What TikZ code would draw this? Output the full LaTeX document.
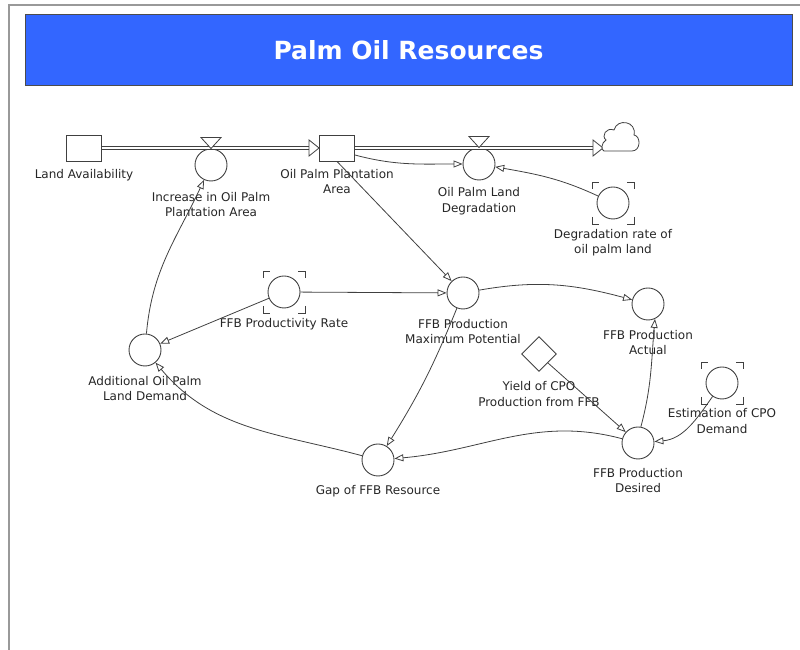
\documentclass[tikz,border=0pt]{standalone}
\usepackage{fontspec}
\setmainfont{DejaVu Sans}
\usetikzlibrary{arrows.meta,shapes.geometric,positioning}
\definecolor{titleblue}{RGB}{51,102,255}
\definecolor{linegray}{RGB}{64,64,64}

% corner marks round a ghost converter
\newcommand{\corners}[1]{%
  \foreach \sx/\sy in {1/1,1/-1,-1/1,-1/-1}{%
    \draw[bracket] ([shift={(\sx*21,\sy*14)}]#1.center) -- ([shift={(\sx*21,\sy*21)}]#1.center) -- ([shift={(\sx*14,\sy*21)}]#1.center);}}
% valve mark on a pipe
\newcommand{\valvemark}[1]{%
  \draw[pipehead] (#1.north) -- ++(-10,11) -- ++(20,0) -- cycle;}

\begin{document}
\begin{tikzpicture}[x=1pt,y=1pt,
  stock/.style={rectangle,draw=linegray,line width=0.9pt,minimum width=35pt,minimum height=26pt,inner sep=0pt},
  conv/.style={circle,draw=linegray,line width=0.9pt,minimum size=32pt,inner sep=0pt},
  const/.style={diamond,draw=linegray,line width=0.9pt,minimum width=35pt,minimum height=35pt,inner sep=0pt},
  lab/.style={align=center,text=black!85,font=\fontsize{12}{15.5}\selectfont,inner sep=0pt},
  link/.style={draw=linegray,line width=0.8pt,-{Triangle[open,length=9pt,width=7pt]}},
  pipe/.style={draw=linegray,line width=0.7pt,double=white,double distance=2.2pt},
  pipehead/.style={draw=linegray,line width=0.8pt,fill=white},
  bracket/.style={draw=linegray,line width=0.9pt},
  titlebox/.style={rectangle,fill=titleblue,draw=black!70,line width=1pt,minimum width=767pt,minimum height=71pt,text=white,font=\bfseries\fontsize{25}{29}\selectfont}]
\useasboundingbox (0,0) rectangle (800,650);
\draw[black!40,line width=1.5pt] (800,645) -- (9,645) -- (9,0);
\node[titlebox] (title) at (408.5,599.5) {Palm Oil Resources};

% stocks, flows and sink
\node[stock] (land) at (84,502) {};
\node[stock] (plant) at (337,502) {};
\node[conv] (inc) at (211,485) {};
\node[conv] (deg) at (479,486) {};
\coordinate (plantin) at ([xshift=-10pt]plant.west);
\coordinate (sinkin) at (603,502);
\draw[pipe] (land.east) -- (plantin);
\draw[pipehead] (plant.west) -- ++(-10,8) -- ++(0,-16) -- cycle;
\draw[pipe] (plant.east) -- ([xshift=-10pt]sinkin);
\draw[pipehead] (sinkin) -- ++(-10,8) -- ++(0,-16) -- cycle;
\draw[draw=linegray,line width=0.8pt,fill=white] (604,499) -- (632,499)
  .. controls (641,499) and (641,514) .. (634,515)
  .. controls (637,529) and (617,532) .. (614,520)
  .. controls (606,523) and (601,514) .. (606,510)
  .. controls (601,507) and (601,500) .. (604,499) -- cycle;
\valvemark{inc}
\valvemark{deg}

% converters
\node[conv] (degrate) at (613,447) {};
\node[conv] (prodrate) at (284,358) {};
\node[conv] (maxpot) at (463,357) {};
\node[conv] (actual) at (648,346) {};
\node[conv] (addl) at (145,300) {};
\node[const] (yield) at (539,296) {};
\node[conv] (estim) at (722,267) {};
\node[conv] (desired) at (638,207) {};
\node[conv] (gap) at (378,190) {};
\corners{degrate}
\corners{prodrate}
\corners{estim}

% labels
\node[lab] (landlab) at (84,475) {Land Availability};
\node[lab] (inclab) at (211,445.5) {Increase in Oil Palm\\Plantation Area};
\node[lab] (plantlab) at (337,468.5) {Oil Palm Plantation\\Area};
\node[lab] (deglab) at (479,449) {Oil Palm Land\\Degradation};
\node[lab] (degratelab) at (613,407.5) {Degradation rate of\\oil palm land};
\node[lab] (prodratelab) at (284,326) {FFB Productivity Rate};
\node[lab] (maxpotlab) at (463,318.5) {FFB Production\\Maximum Potential};
\node[lab] (actuallab) at (648,307.5) {FFB Production\\Actual};
\node[lab] (addllab) at (145,261.5) {Additional Oil Palm\\Land Demand};
\node[lab] (yieldlab) at (539,256) {Yield of CPO\\Production from FFB};
\node[lab] (estimlab) at (722,229) {Estimation of CPO\\Demand};
\node[lab] (desiredlab) at (638,169.5) {FFB Production\\Desired};
\node[lab] (gaplab) at (378,159) {Gap of FFB Resource};

% links
\draw[link] ([yshift=-7pt]plant.east) to[out=-15,in=180] (deg.west);
\draw[link] (degrate) to[out=155,in=-10] (deg);
\draw[link] (plant.south) -- (maxpot);
\draw[link] (prodrate) -- (maxpot);
\draw[link] (prodrate) -- (addl);
\draw[link] (addl) to[out=85,in=-115] (inc);
\draw[link] (maxpot) to[out=10,in=165] (actual);
\draw[link] (maxpot) to[out=-112,in=58] (gap);
\draw[link] (yield.south east) -- (desired);
\draw[link] (desired.80) to[out=75,in=-95] (actual.-65);
\draw[link] (estim) to[out=-125,in=5] (desired);
\draw[link] (desired) to[out=165,in=5] (gap);
\draw[link] (gap) to[out=165,in=-50] (addl);
\end{tikzpicture}
\end{document}
